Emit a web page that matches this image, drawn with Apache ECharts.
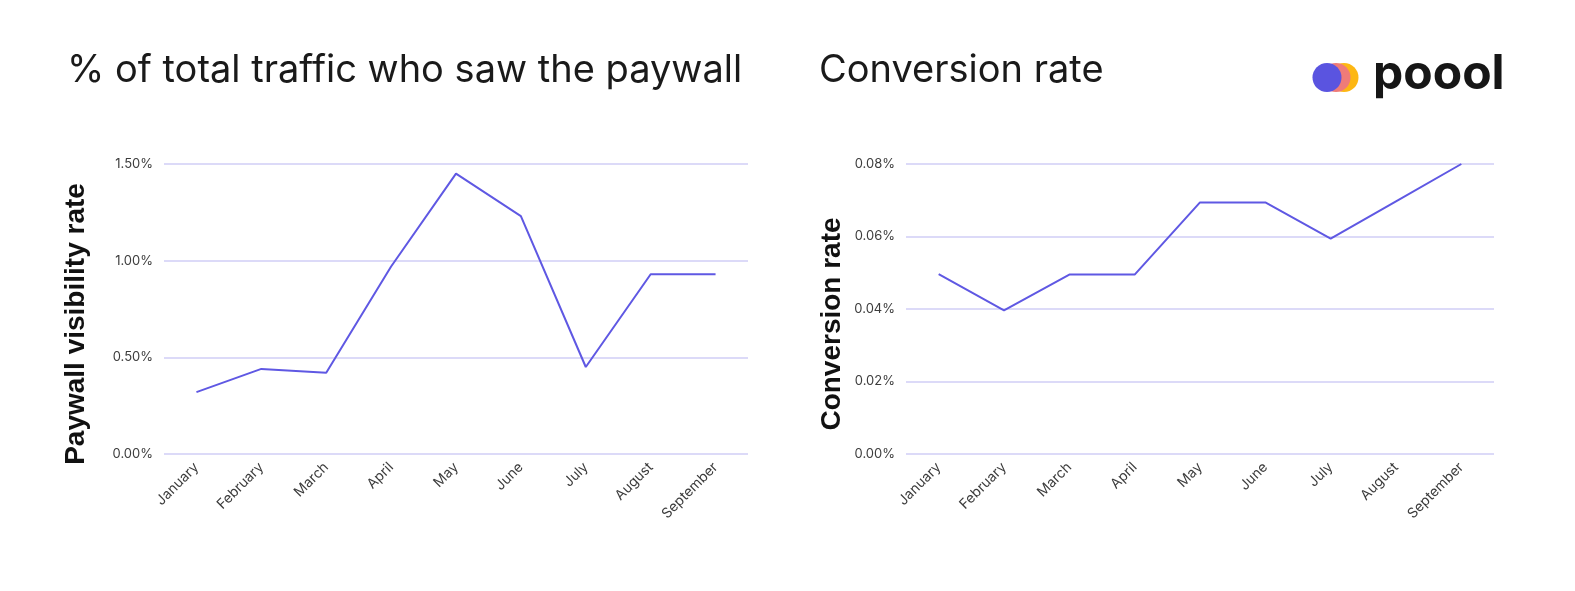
<!DOCTYPE html>
<html>
<head>
<meta charset="utf-8">
<script src="https://cdn.jsdelivr.net/npm/echarts@6/dist/echarts.min.js"></script>
<style>
html,body{margin:0;padding:0;background:#fff;}
#chart{width:1575px;height:591px;}
</style>
</head>
<body>
<div id="chart"></div>
<script>
var months = ['January','February','March','April','May','June','July','August','September'];
var visibilityRate = [0.32, 0.44, 0.42, 0.97, 1.45, 1.23, 0.45, 0.93, 0.93];
var conversionRate = [0.0496, 0.0396, 0.0495, 0.0495, 0.0694, 0.0694, 0.0594, 0.0697, 0.08];
var leftTitle = '% of total traffic who saw the paywall';
var rightTitle = 'Conversion rate';
var leftAxisName = 'Paywall visibility rate';
var rightAxisName = 'Conversion rate';

var lineColor = '#5f58e3';
var gridColor = '#dcdaf8';
var labelColor = '#3c3c3c';

function xAxisCfg(gridIndex){
  return {
    type:'category', gridIndex:gridIndex, data:months, boundaryGap:true,
    axisLine:{show:false}, axisTick:{show:false},
    axisLabel:{rotate:45, fontSize:14, color:labelColor, fontFamily:'Inter', margin:11}
  };
}
function yAxisCfg(gridIndex, max, interval, name, gap){
  return {
    type:'value', gridIndex:gridIndex, min:0, max:max, interval:interval,
    name:name, nameLocation:'middle', nameRotate:90, nameGap:gap,
    nameTextStyle:{fontSize:28, fontWeight:'bold', color:'#111', fontFamily:'Liberation Sans', padding:[0,30,0,0]},
    axisLine:{show:false}, axisTick:{show:false},
    splitLine:{lineStyle:{color:gridColor, width:2}},
    axisLabel:{fontSize:13, color:labelColor, fontFamily:'Inter', margin:11,
      formatter:function(v){return v.toFixed(2)+'%';}}
  };
}

var chart = echarts.init(document.getElementById('chart'), null, {renderer:'canvas'});
chart.setOption({
  backgroundColor:'#ffffff',
  animation:false,
  title:[
    {text:leftTitle, left:62, top:47, textStyle:{fontSize:38, fontWeight:'normal', color:'#1a1a1a', fontFamily:'Inter'}},
    {text:rightTitle, left:814, top:47, textStyle:{fontSize:38, fontWeight:'normal', color:'#1a1a1a', fontFamily:'Inter'}}
  ],
  grid:[
    {left:164, top:164, width:584, height:290},
    {left:906, top:164, width:588, height:290}
  ],
  xAxis:[xAxisCfg(0), xAxisCfg(1)],
  yAxis:[yAxisCfg(0,1.5,0.5,leftAxisName,74), yAxisCfg(1,0.08,0.02,rightAxisName,60)],
  series:[
    {type:'line', xAxisIndex:0, yAxisIndex:0, data:visibilityRate, showSymbol:false, lineStyle:{color:lineColor, width:2}, itemStyle:{color:lineColor}},
    {type:'line', xAxisIndex:1, yAxisIndex:1, data:conversionRate, showSymbol:false, lineStyle:{color:lineColor, width:2}, itemStyle:{color:lineColor}}
  ],
  graphic:[
    {type:'circle', shape:{cx:1344, cy:77.5, r:14.5}, style:{fill:'#fdb713'}, z:10},
    {type:'circle', shape:{cx:1336, cy:77.5, r:14.5}, style:{fill:'#ef7b78'}, z:11},
    {type:'circle', shape:{cx:1327, cy:77.5, r:14.5}, style:{fill:'#5a54e0'}, z:12},
    {type:'text', left:1373, top:51, style:{text:'poool', fontSize:48, fontWeight:'bold', fill:'#161616', fontFamily:'Inter'}, z:12}
  ]
});
</script>
</body>
</html>
